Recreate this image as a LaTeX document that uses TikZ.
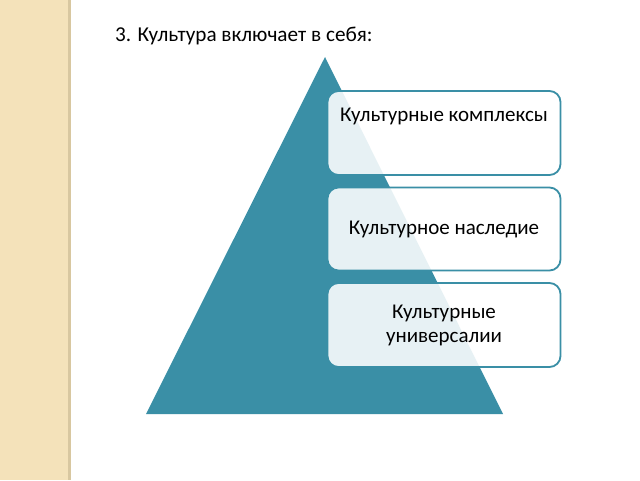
\documentclass[tikz,border=0pt]{standalone}
\usepackage{fontspec}
\setmainfont{Carlito}
\definecolor{teal1}{HTML}{3A8FA6}
\definecolor{strip}{HTML}{F4E2BA}
\definecolor{stripedge}{HTML}{D8C7A0}
\begin{document}
\begin{tikzpicture}[x=1pt,y=-1pt,
  boxst/.style={draw=teal1,line width=1.8pt,rounded corners=11pt,fill=white,fill opacity=0.88,text opacity=1,minimum width=233pt,align=center,font=\fontsize{21}{24}\selectfont},
  titlest/.style={anchor=west,inner sep=0pt,font=\fontsize{21.2}{24}\selectfont}]
\useasboundingbox (0,0) rectangle (640,480);
\fill[white] (0,0) rectangle (640,480);
\fill[strip] (0,0) rectangle (70,480);
\fill[stripedge] (68,0) rectangle (71,480);
\node[titlest] (title) at (115,36) {3. Культура включает в себя:};
\fill[teal1] (325,57) coordinate (apex) -- (503,414) coordinate (br) -- (146,414) coordinate (bl) -- cycle;
\node[boxst,minimum height=84pt] (b1) at (444,133) {};
\node[font=\fontsize{21}{24}\selectfont,anchor=center] (t1) at (444,116) {Культурные комплексы};
\node[boxst,minimum height=83pt] (b2) at (444,229) {Культурное наследие};
\node[boxst,minimum height=84pt] (b3) at (444,325) {Культурные\\универсалии};
\end{tikzpicture}
\end{document}
